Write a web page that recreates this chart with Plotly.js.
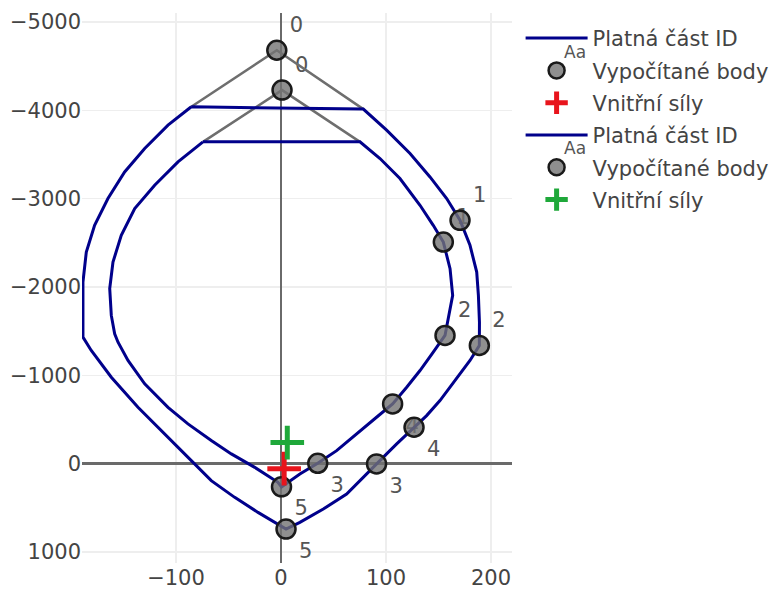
<!DOCTYPE html>
<html>
<head>
<meta charset="utf-8">
<script src="https://cdn.plot.ly/plotly-3.0.1.min.js"></script>
<style>html,body{margin:0;padding:0;background:#fff}#chart{width:772px;height:590px}</style>
</head>
<body>
<div id="chart"></div>
<script>
// Inner interaction diagram (valid part)
var innerX = [-74.3, 75.2, 94.3, 113.3, 132.4, 145, 154.6, 161, 163.5, 161, 156.2, 145, 132.4, 119.7, 106.3, 91, 72, 53, 35, 18, 0.5, -2.9, -25, -47.3, -66.4, -88.6, -107.6, -129.8, -145.7, -155.2, -158.4, -161.6, -163.1, -160, -152.1, -139.3, -120.3, -98.1, -74.3];
var innerY = [-3643, -3643, -3454, -3228, -2925, -2698, -2509, -2207, -1905, -1735, -1451, -1262, -1054, -865, -676, -525, -336, -147, -4, 117, 263, 212, 42, -110, -261, -450, -638, -904, -1168, -1375, -1470, -1678, -1981, -2282, -2585, -2888, -3152, -3416, -3643];
// Inner invalid part (gray)
var innerGrayX = [-74.3, 1, 75.2];
var innerGrayY = [-3643, -4229, -3643];
// Inner computed points
var innerPtX = [1, 154.6, 156.2, 106.3, 35, 0.5];
var innerPtY = [-4229, -2509, -1451, -676, -4, 263];
var innerPtLabels = ["0", "1", "2", "4", "3", "5"];
// Internal forces (inner)
var forceAX = [3];
var forceAY = [57];

// Outer interaction diagram (valid part)
var outerX = [-85.4, 78.4, 100.6, 122.9, 141.9, 157.8, 170.5, 180, 186.4, 188, 189, 188.9, 180, 167.3, 151.4, 138.7, 126.7, 110.2, 100.6, 91, 78.4, 62.5, 40.3, 18, 4.8, -21.9, -44.1, -66.4, -85.4, -107.6, -136.2, -161.6, -180.7, -188.6, -188.6, -188.6, -185.4, -177.5, -164.8, -148.9, -129.8, -107.6, -85.4];
var outerY = [-4040, -4014, -3776, -3511, -3246, -3001, -2755, -2472, -2169, -1905, -1600, -1338, -1168, -960, -714, -544, -412, -223, -110, 3, 155, 344, 514, 665, 741, 552, 382, 193, -34, -298, -638, -978, -1281, -1432, -1527, -2056, -2396, -2698, -3001, -3303, -3568, -3832, -4040];
var outerGrayX = [-85.4, -4, 78.4];
var outerGrayY = [-4040, -4680, -4014];
var outerPtX = [-4, 170.5, 188.9, 126.7, 91, 4.8];
var outerPtY = [-4680, -2755, -1338, -412, 3, 741];
var outerPtLabels = ["0", "1", "2", "4", "3", "5"];
var forceBX = [6];
var forceBY = [-238];

var labelPos = ["top right", "top right", "top right", "bottom right", "bottom right", "bottom right"];
var legendTextGlyph = "Aa";

var lineColor = "#00008b";
var font = "DejaVu Sans, Verdana, sans-serif";
var fs = 21;

function grayTrace(x, y) {
  return {x: x, y: y, mode: "lines", type: "scatter", showlegend: false, hoverinfo: "skip",
          line: {color: "#6e6e6e", width: 2.5}};
}
function validTrace(x, y, g) {
  return {x: x, y: y, mode: "lines", type: "scatter", name: "Platná část ID", legendgroup: g,
          line: {color: lineColor, width: 3}};
}
function pointsTrace(x, y, t, g) {
  return {x: x, y: y, mode: "markers+text", type: "scatter", name: "Vypočítané body", legendgroup: g,
          text: t, textposition: labelPos,
          textfont: {family: font, size: fs, color: "#555"},
          marker: {size: 19, color: "rgba(115,115,115,0.8)", line: {color: "#1a1a1a", width: 2.5}}};
}
function forceTrace(x, y, c, g) {
  return {x: x, y: y, mode: "markers", type: "scatter", name: "Vnitřní síly", legendgroup: g,
          marker: {symbol: "cross-thin", size: 24, color: c, line: {color: c, width: 5}}};
}

var data = [
  grayTrace(innerGrayX, innerGrayY),
  validTrace(innerX, innerY, "a1"),
  pointsTrace(innerPtX, innerPtY, innerPtLabels, "a2"),
  forceTrace(forceAX, forceAY, "#e8141c", "a3"),
  grayTrace(outerGrayX, outerGrayY),
  validTrace(outerX, outerY, "b1"),
  pointsTrace(outerPtX, outerPtY, outerPtLabels, "b2"),
  forceTrace(forceBX, forceBY, "#1fa83a", "b3")
];

function aaNote(yp) {
  return {text: legendTextGlyph, xref: "paper", yref: "paper", x: 1.1465, y: yp,
          xanchor: "center", yanchor: "middle", showarrow: false,
          font: {family: font, size: 17, color: "#555"}};
}

var layout = {
  width: 772, height: 590,
  margin: {l: 82, r: 260, t: 13, b: 27, autoexpand: false},
  paper_bgcolor: "#fff", plot_bgcolor: "#fff",
  font: {family: font, size: fs, color: "#444"},
  xaxis: {range: [-189.5, 220], dtick: 100, showgrid: true, gridcolor: "#eeeeee", gridwidth: 1.5,
          zeroline: true, zerolinecolor: "#6a6a6a", zerolinewidth: 2.5, showline: false,
          tickfont: {size: fs, color: "#444"}},
  yaxis: {range: [1125, -5102], dtick: 1000, showgrid: true, gridcolor: "#eeeeee", gridwidth: 1.5,
          zeroline: true, zerolinecolor: "#6a6a6a", zerolinewidth: 2.5, showline: false,
          tickfont: {size: fs, color: "#444"}},
  legend: {x: 1.02, y: 0.991, xanchor: "left", yanchor: "top", font: {size: fs, color: "#444"},
           itemwidth: 62, tracegroupgap: 2, traceorder: "grouped"},
  annotations: [aaNote(0.929), aaNote(0.7545)],
  showlegend: true
};

Plotly.newPlot("chart", data, layout, {displayModeBar: false, staticPlot: true});
</script>
</body>
</html>
